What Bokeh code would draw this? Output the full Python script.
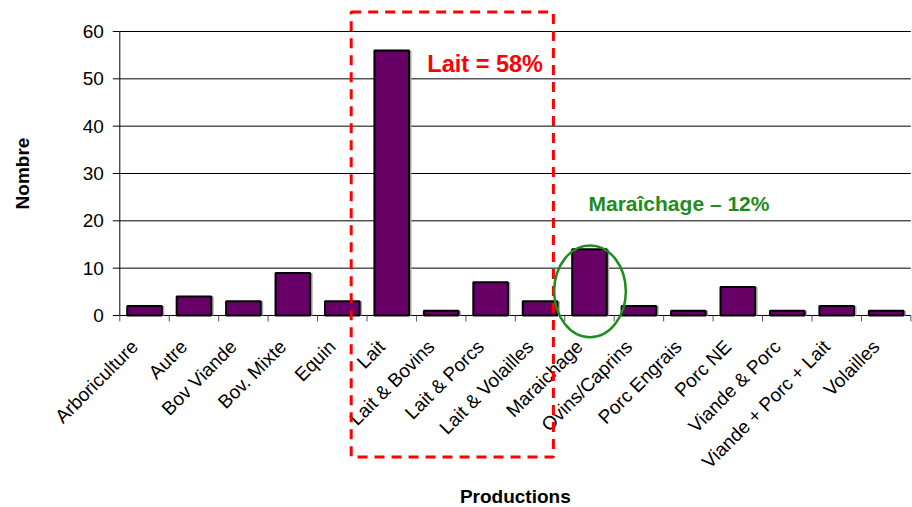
from math import pi
from bokeh.plotting import figure
from bokeh.models import Range1d, ColumnDataSource
from bokeh.core.properties import value
from bokeh.transform import dodge
from bokeh.embed import file_html
from bokeh.resources import INLINE

# ---- data ----
categories = ["Arboriculture", "Autre", "Bov Viande", "Bov. Mixte", "Equin", "Lait",
              "Lait & Bovins", "Lait & Porcs", "Lait & Volailles", "Maraichage",
              "Ovins/Caprins", "Porc Engrais", "Porc NE", "Viande & Porc",
              "Viande + Porc + Lait", "Volailles"]
counts = [2, 4, 3, 9, 3, 56, 1, 7, 3, 14, 2, 1, 6, 1, 2, 1]
y_ticks = [0, 10, 20, 30, 40, 50, 60]
y_tick_labels = ["0", "10", "20", "30", "40", "50", "60"]
lait_text = "Lait = 58%"
mara_text = "Maraîchage – 12%"
x_title = "Productions"
y_title = "Nombre"

FONT = "Liberation Sans"
n = len(categories)
centers = [i + 0.5 for i in range(n)]
bounds = list(range(n + 1))

src = ColumnDataSource(dict(x=centers, top=counts, name=categories))
xtick_src = ColumnDataSource(dict(x=bounds, y=[0] * len(bounds)))
xlab_src = ColumnDataSource(dict(x=centers, y=[0] * n, text=categories))
ytick_src = ColumnDataSource(dict(x=[0] * len(y_ticks), y=y_ticks,
                                  x1=[n] * len(y_ticks), text=y_tick_labels))

# The frame covers the whole canvas so that nothing (dashed box, ellipse,
# rotated labels) is clipped; axes are drawn by hand from the same scales.
p = figure(width=912, height=507,
           x_range=Range1d(-2.413, 16.033), y_range=Range1d(-40.57, 66.55),
           output_backend="svg", toolbar_location=None,
           x_axis_location=None, y_axis_location=None,
           min_border_left=0, min_border_right=0, min_border_top=0,
           min_border_bottom=0)
p.outline_line_color = None
p.background_fill_color = "white"
p.grid.visible = False

# horizontal grid lines (the 0 line is the x axis)
p.segment(x0="x", y0="y", x1="x1", y1="y", source=ytick_src,
          line_color="black", line_width=1)

# bars (shadow + bar)
p.vbar(x=dodge("x", 0.05), top="top", width=0.7, bottom=0, source=src,
       fill_color="#a8a8a8", line_color=None)
p.vbar(x="x", top="top", width=0.7, bottom=0, source=src,
       fill_color="#660066", line_color="black", line_width=2)

# y axis line, y ticks, y tick labels
p.segment(x0=0, y0=y_ticks[0], x1=0, y1=y_ticks[-1], line_color="black", line_width=1)
p.ray(x="x", y="y", source=ytick_src, length=7, length_units="screen",
      angle=pi, line_color="black", line_width=1)
p.text(x="x", y="y", text="text", source=ytick_src, text_align="right",
       text_baseline="middle", x_offset=-16, y_offset=0,
       text_font=value(FONT), text_font_size="19px", text_color="black")

# x boundary ticks and category labels
p.ray(x="x", y="y", source=xtick_src, length=6, length_units="screen",
      angle=-pi / 2, line_color="#555555", line_width=1)
p.text(x="x", y="y", text="text", source=xlab_src, angle=pi / 4,
       text_align="right", text_baseline="middle", x_offset=-10, y_offset=28,
       text_font=value(FONT), text_font_size="19px", text_color="black")

# axis titles
p.text(x=[0], y=[(y_ticks[0] + y_ticks[-1]) / 2], text=[y_title], angle=pi / 2,
       text_align="center", text_baseline="middle", x_offset=-97, y_offset=0,
       text_font=value(FONT), text_font_size="19px", text_font_style="bold",
       text_color="black")
p.text(x=[n / 2], y=[0], text=[x_title], text_align="center",
       text_baseline="middle", x_offset=0, y_offset=181,
       text_font=value(FONT), text_font_size="19px", text_font_style="bold",
       text_color="black")

# red dashed box around the Lait group
p.quad(left=4.68, right=8.77, top=64.1, bottom=-29.9, fill_color=None,
       line_color="#ff0000", line_width=3, line_dash="10 7")

# green ellipse around Maraichage
p.ellipse(x=9.51, y=5.1, width=1.45, height=19.4, fill_color=None,
          line_color="#1f8c1f", line_width=2.5)

# annotations
p.text(x=[6.22], y=[53.14], text=[lait_text], text_align="left",
       text_baseline="middle", text_font=value(FONT), text_font_size="23.5px",
       text_font_style="bold", text_color="#ff0000")
p.text(x=[9.48], y=[23.6], text=[mara_text], text_align="left",
       text_baseline="middle", text_font=value(FONT), text_font_size="21px",
       text_font_style="bold", text_color="#1f8c1f")

open("out.html", "w").write(file_html(p, INLINE))
